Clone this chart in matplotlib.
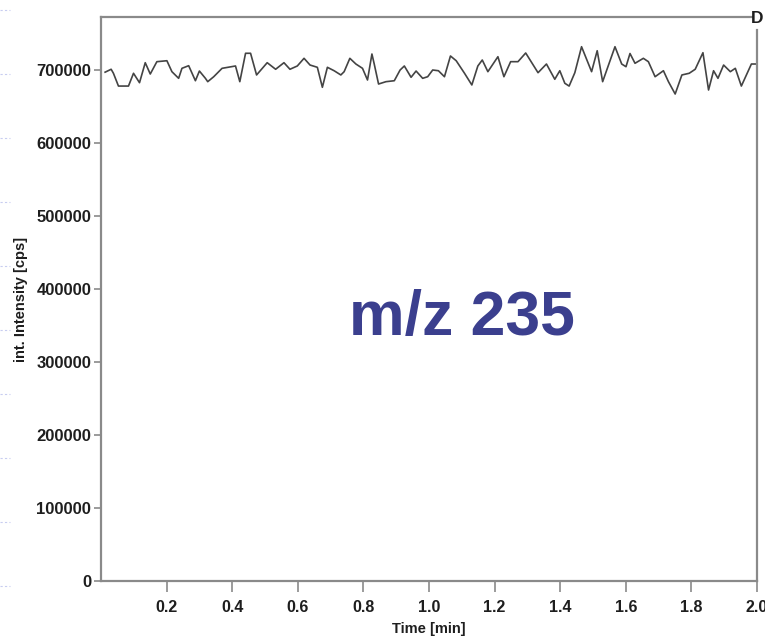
import numpy as np
import matplotlib
matplotlib.use("Agg")
import matplotlib.pyplot as plt
from matplotlib.lines import Line2D

# trace (time in min, intensity in cps)
time_min = [0.0125, 0.0309, 0.0379, 0.0532, 0.0838, 0.0991, 0.1174, 0.1349, 0.1502, 0.1703,
            0.2009, 0.2162, 0.2367, 0.2468, 0.2673, 0.2878, 0.3000, 0.3183, 0.3254, 0.3437,
            0.3691, 0.4101, 0.4232, 0.4407, 0.4560, 0.4743, 0.5067, 0.5324, 0.5578, 0.5761,
            0.5985, 0.6190, 0.6373, 0.6596, 0.6749, 0.6902, 0.7107, 0.7312, 0.7413, 0.7587,
            0.7771, 0.7972, 0.8125, 0.8260, 0.8330, 0.8462, 0.8688, 0.8942, 0.9119, 0.9248,
            0.9453, 0.9606, 0.9807, 0.9960, 1.0113, 1.0287, 1.0471, 1.0654, 1.0829, 1.1083,
            1.1306, 1.1489, 1.1624, 1.1795, 1.2101, 1.2284, 1.2489, 1.2713, 1.2948, 1.3324,
            1.3581, 1.3835, 1.3988, 1.4141, 1.4272, 1.4446, 1.4651, 1.4957, 1.5128, 1.5294,
            1.5670, 1.5875, 1.6006, 1.6128, 1.6281, 1.6535, 1.6688, 1.6893, 1.7147, 1.7300,
            1.7505, 1.7710, 1.7933, 1.8116, 1.8352, 1.8523, 1.8676, 1.8810, 1.8982, 1.9187,
            1.9339, 1.9523, 1.9829, 2.0000]
intensity = [697000, 701000, 695500, 678000, 678000, 695500, 682600, 710000, 694500, 711400,
             712700, 697700, 688600, 702300, 705900, 685300, 698600, 688600, 684000, 690800,
             702300, 705500, 684000, 722900, 722900, 693200, 710000, 701000, 710000, 701000,
             705500, 716000, 706800, 703700, 676300, 703700, 699000, 693200, 697700, 716000,
             708200, 702300, 686300, 721900, 708200, 680800, 684000, 685300, 700000, 705500,
             690000, 698600, 688600, 690800, 700000, 699000, 690800, 719200, 712700, 695500,
             679500, 705500, 713700, 697700, 718200, 690800, 711400, 711400, 723300, 696300,
             708200, 687300, 699000, 681800, 678000, 696300, 731900, 697700, 726400, 684000,
             731900, 708200, 704500, 722600, 709200, 716000, 711400, 690800, 699000, 684000,
             667100, 693200, 695500, 701000, 723700, 672600, 699000, 688600, 706800, 697700,
             702300, 678000, 708200, 708200]

x_ticks = [0.2, 0.4, 0.6, 0.8, 1.0, 1.2, 1.4, 1.6, 1.8, 2.0]
y_ticks = [0, 100000, 200000, 300000, 400000, 500000, 600000, 700000]

tick_font = ['Liberation Sans Narrow', 'Liberation Sans', 'DejaVu Sans']
spine_col = '#8a8a8a'
text_col = '#1e1e1e'

fig = plt.figure(figsize=(7.65, 6.41), dpi=100)
ax = fig.add_axes([101 / 765, 1 - 581 / 641, 656 / 765, 564 / 641])

ax.plot(time_min, intensity, color='#444444', lw=1.2)

ax.set_xlim(0, 2.0)
ax.set_ylim(0, 772600)
ax.set_xticks(x_ticks)
ax.set_xticklabels([f"{t:.1f}" for t in x_ticks])
ax.set_yticks(y_ticks)
ax.set_yticklabels([str(v) for v in y_ticks])

for s in ax.spines.values():
    s.set_color(spine_col)
    s.set_linewidth(1.6)
ax.spines['top'].set_bounds(0, 1.985)
ax.spines['right'].set_bounds(0, 755000)

ax.tick_params(axis='x', direction='out', length=8, width=1.2, color=spine_col, pad=6)
ax.tick_params(axis='y', direction='out', length=5, width=1.2, color=spine_col, pad=2)
for lab in ax.get_xticklabels():
    lab.set_family(tick_font)
    lab.set_fontweight('bold')
    lab.set_fontsize(11.5)
    lab.set_color(text_col)
for lab in ax.get_yticklabels():
    lab.set_family(tick_font)
    lab.set_fontweight('bold')
    lab.set_fontsize(12)
    lab.set_color(text_col)

ax.set_xlabel("Time [min]", family=tick_font, fontweight='bold', fontsize=10.5,
              color=text_col, labelpad=5)
ax.set_ylabel("int. Intensity [cps]", family=tick_font, fontweight='bold', fontsize=10.5,
              color=text_col, labelpad=6)

ax.text(1.0, 0.998, "D", transform=ax.transAxes, ha='center', va='center',
        family='Liberation Sans', fontweight='bold', fontsize=12.5, color=text_col)

ax.text(0.55, 0.466, "m/z 235", transform=ax.transAxes, ha='center', va='center',
        family='Liberation Sans', fontweight='bold', fontsize=45, color='#3b3f8e')

# faint slide marks on the far left edge
for yy in range(10, 641, 64):
    fig.add_artist(Line2D([0, 10 / 765], [1 - yy / 641] * 2, transform=fig.transFigure,
                          color='#c8cdf0', lw=0.8, ls=(0, (2, 2))))

fig.savefig("out.png", dpi=100)
